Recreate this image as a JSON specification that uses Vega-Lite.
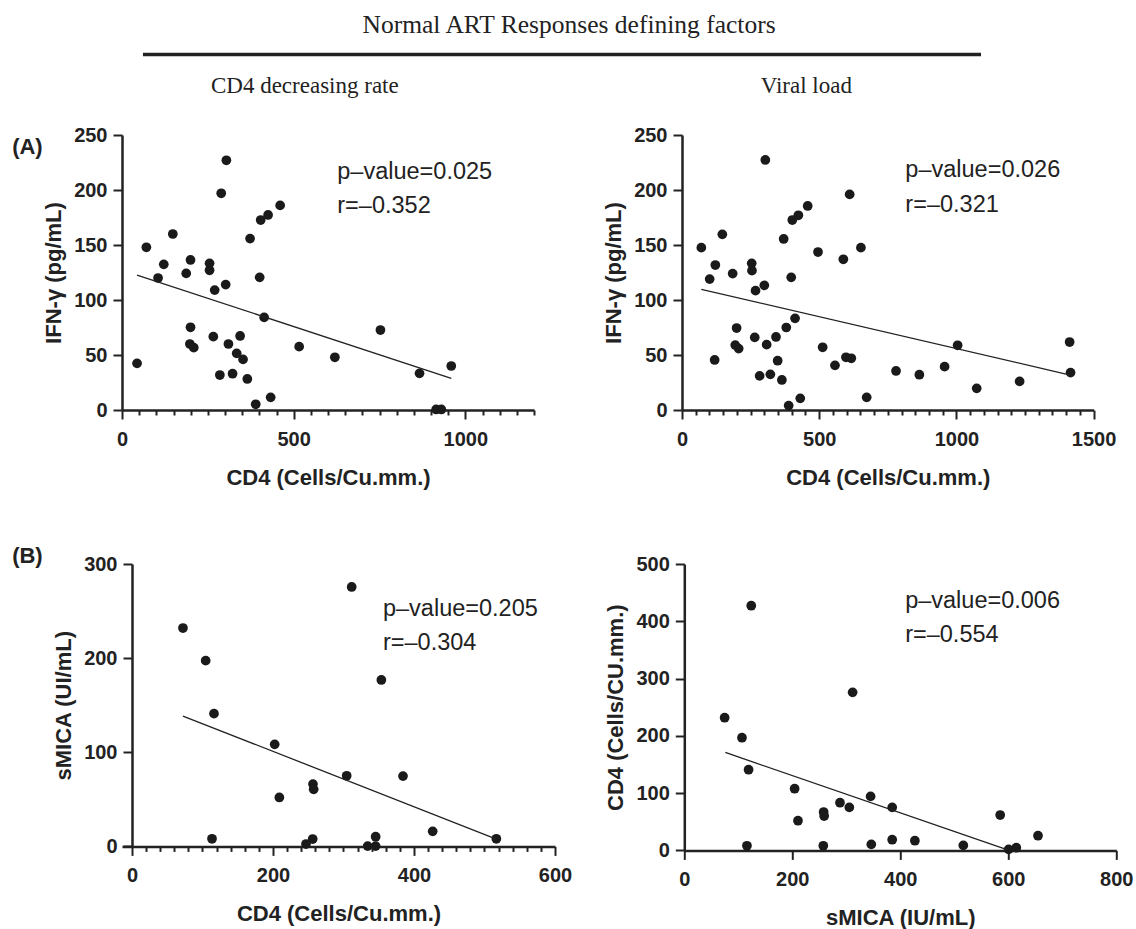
{
  "$schema": "https://vega.github.io/schema/vega-lite/v6.json",
  "padding": {"left": 12, "top": 13, "right": 5, "bottom": 5},
  "background": "white",
  "title": {"text": "Normal ART Responses defining factors", "font": "Liberation Serif", "fontSize": 25.5, "fontWeight": "normal", "color": "#222", "anchor": "middle", "offset": 14, "dx": -3.5},
  "config": {
    "view": {"stroke": null},
    "axis": {"grid": false, "labelFont": "Liberation Sans", "labelFontSize": 20, "labelFontWeight": "bold", "labelColor": "#222", "titleFont": "Liberation Sans", "titleFontSize": 22, "titleFontWeight": "bold", "titleColor": "#222", "labelPadding": 6, "labelFlush": false, "labelOverlap": false, "format": "d"},
    "axisX": {"labelPadding": 10, "titlePadding": 18},
    "axisY": {"titlePadding": 8},
    "text": {"font": "Liberation Sans", "color": "#222"}
  },
  "datasets": {
    "aL": [{"x":43.8,"y":42.4},{"x":71,"y":147.9},{"x":105,"y":120},{"x":121.7,"y":132.4},{"x":148,"y":160},{"x":187,"y":124.2},{"x":199.6,"y":136.4},{"x":199.6,"y":75.2},{"x":197.7,"y":60},{"x":209,"y":56.7},{"x":255,"y":133.3},{"x":255,"y":127},{"x":266,"y":66.7},{"x":270,"y":109},{"x":285,"y":31.8},{"x":289,"y":197},{"x":302,"y":114},{"x":304,"y":227},{"x":310,"y":60},{"x":322,"y":33},{"x":334,"y":51.5},{"x":344,"y":67.3},{"x":352.5,"y":46},{"x":365,"y":28.2},{"x":373,"y":155.8},{"x":389.5,"y":5.2},{"x":401,"y":120.6},{"x":404,"y":172.7},{"x":414,"y":84.2},{"x":425.5,"y":177.3},{"x":433,"y":11.5},{"x":460.6,"y":186},{"x":516,"y":57.6},{"x":620,"y":47.9},{"x":752.7,"y":72.7},{"x":866.6,"y":33.3},{"x":915,"y":0.5},{"x":930,"y":0.5},{"x":959,"y":40}],
    "aLfit": [{"x":43.8,"y":122.7},{"x":959,"y":28.8}],
    "aR": [{"x":70.5,"y":147.6},{"x":100.8,"y":119},{"x":119,"y":45.5},{"x":121.5,"y":131.8},{"x":147,"y":159.7},{"x":184.6,"y":124},{"x":199,"y":74.5},{"x":194,"y":59},{"x":206.5,"y":55.8},{"x":254,"y":133.3},{"x":255,"y":126.7},{"x":265,"y":66},{"x":268,"y":108.5},{"x":283,"y":31},{"x":300,"y":113.3},{"x":303.7,"y":227.3},{"x":308.5,"y":59.4},{"x":322,"y":32.4},{"x":342.5,"y":66.4},{"x":348.6,"y":44.8},{"x":364,"y":27.3},{"x":370.5,"y":155.5},{"x":380,"y":75},{"x":388.7,"y":4},{"x":398,"y":120.6},{"x":402,"y":172.7},{"x":412,"y":83.3},{"x":424,"y":177},{"x":431,"y":10.6},{"x":458,"y":185.5},{"x":495.6,"y":143.6},{"x":512.6,"y":57},{"x":557.5,"y":40.6},{"x":588,"y":137},{"x":597.6,"y":47.9},{"x":617,"y":47},{"x":611,"y":196},{"x":652,"y":147.6},{"x":673,"y":11.5},{"x":780,"y":35.5},{"x":865,"y":32.1},{"x":957,"y":39.4},{"x":1004.5,"y":58.8},{"x":1074,"y":19.7},{"x":1230.4,"y":26},{"x":1412.6,"y":61.8},{"x":1416,"y":34}],
    "aRfit": [{"x":70.5,"y":109.7},{"x":1415,"y":31.8}],
    "bL": [{"x":72.3,"y":232},{"x":104.5,"y":197.3},{"x":116.3,"y":141},{"x":113.5,"y":8.1},{"x":202.4,"y":108.4},{"x":209,"y":52},{"x":256.7,"y":66.2},{"x":257.7,"y":60.6},{"x":256.3,"y":7.8},{"x":246.8,"y":2.5},{"x":311.6,"y":275.6},{"x":304.5,"y":75},{"x":334.3,"y":0.3},{"x":345.6,"y":0.3},{"x":345.6,"y":10.3},{"x":353.7,"y":176.8},{"x":384.4,"y":74.7},{"x":426.5,"y":16},{"x":516.8,"y":8.1}],
    "bLfit": [{"x":72.3,"y":138.5},{"x":516.8,"y":7.8}],
    "bR": [{"x":74.7,"y":231.7},{"x":106.8,"y":196.7},{"x":124,"y":427.2},{"x":119,"y":140.9},{"x":116,"y":8.1},{"x":204.3,"y":107.7},{"x":210.5,"y":51.8},{"x":258,"y":67},{"x":259,"y":60},{"x":257.4,"y":8.1},{"x":288.3,"y":83.2},{"x":305.6,"y":75.1},{"x":311.7,"y":275.9},{"x":345,"y":94.3},{"x":346.3,"y":10.5},{"x":385,"y":75.1},{"x":385,"y":18.6},{"x":427,"y":16.9},{"x":516.7,"y":8.7},{"x":585,"y":61.7},{"x":600.6,"y":1.7},{"x":614.8,"y":4.7},{"x":655,"y":25.6}],
    "bRfit": [{"x":75.9,"y":171},{"x":597.5,"y":1.2}]
  },
  "spacing": 56,
  "vconcat": [
    {
      "bounds": "flush",
      "spacing": 148,
      "hconcat": [
        {
          "width": 412, "height": 275,
          "layer": [
            {"data": {"name": "aL"}, "mark": {"type": "point", "filled": true, "size": 95, "color": "#1a1a1a", "opacity": 1},
             "encoding": {
               "x": {"field": "x", "type": "quantitative", "scale": {"domain": [0, 1200], "nice": false}, "axis": {"title": "CD4 (Cells/Cu.mm.)", "domainColor": "#222", "domainWidth": 2.5, "tickColor": "#222", "tickWidth": 2, "values": [0,50,100,150,200,250,300,350,400,450,500,550,600,650,700,750,800,850,900,950,1000,1050,1100,1150,1200], "labelExpr": "datum.value % 500 === 0 ? datum.label : ''", "tickSize": {"condition": {"test": "datum.value % 500 === 0", "value": 9}, "value": 5}}},
               "y": {"field": "y", "type": "quantitative", "scale": {"domain": [0, 250], "nice": false}, "axis": {"title": "IFN-γ (pg/mL)", "domainColor": "#222", "domainWidth": 2.5, "tickColor": "#222", "tickWidth": 2, "tickSize": 9, "values": [0,50,100,150,200,250]}}
             }},
            {"data": {"name": "aLfit"}, "mark": {"type": "line", "color": "#222", "strokeWidth": 1.3},
             "encoding": {
               "x": {"field": "x", "type": "quantitative", "scale": {"domain": [0, 1200], "nice": false}, "axis": {"title": "CD4 (Cells/Cu.mm.)", "domainColor": "#222", "domainWidth": 2.5, "tickColor": "#222", "tickWidth": 2, "values": [0,50,100,150,200,250,300,350,400,450,500,550,600,650,700,750,800,850,900,950,1000,1050,1100,1150,1200], "labelExpr": "datum.value % 500 === 0 ? datum.label : ''", "tickSize": {"condition": {"test": "datum.value % 500 === 0", "value": 9}, "value": 5}}},
               "y": {"field": "y", "type": "quantitative", "scale": {"domain": [0, 250], "nice": false}, "axis": {"title": "IFN-γ (pg/mL)", "domainColor": "#222", "domainWidth": 2.5, "tickColor": "#222", "tickWidth": 2, "tickSize": 9, "values": [0,50,100,150,200,250]}}}},
            {"data": {"values": [{}]}, "mark": {"type": "text", "align": "left", "baseline": "middle", "fontSize": 23.5},
             "encoding": {
               "x": {"datum": 627, "scale": {"domain": [0, 1200], "nice": false}, "axis": {"title": "CD4 (Cells/Cu.mm.)", "domainColor": "#222", "domainWidth": 2.5, "tickColor": "#222", "tickWidth": 2, "values": [0,50,100,150,200,250,300,350,400,450,500,550,600,650,700,750,800,850,900,950,1000,1050,1100,1150,1200], "labelExpr": "datum.value % 500 === 0 ? datum.label : ''", "tickSize": {"condition": {"test": "datum.value % 500 === 0", "value": 9}, "value": 5}}},
               "y": {"datum": 216.6, "scale": {"domain": [0, 250], "nice": false}, "axis": {"title": "IFN-γ (pg/mL)", "domainColor": "#222", "domainWidth": 2.5, "tickColor": "#222", "tickWidth": 2, "tickSize": 9, "values": [0,50,100,150,200,250]}},
               "text": {"value": "p–value=0.025"}}},
            {"data": {"values": [{}]}, "mark": {"type": "text", "align": "left", "baseline": "middle", "fontSize": 23.5},
             "encoding": {
               "x": {"datum": 627, "scale": {"domain": [0, 1200], "nice": false}, "axis": {"title": "CD4 (Cells/Cu.mm.)", "domainColor": "#222", "domainWidth": 2.5, "tickColor": "#222", "tickWidth": 2, "values": [0,50,100,150,200,250,300,350,400,450,500,550,600,650,700,750,800,850,900,950,1000,1050,1100,1150,1200], "labelExpr": "datum.value % 500 === 0 ? datum.label : ''", "tickSize": {"condition": {"test": "datum.value % 500 === 0", "value": 9}, "value": 5}}},
               "y": {"datum": 185.5, "scale": {"domain": [0, 250], "nice": false}, "axis": {"title": "IFN-γ (pg/mL)", "domainColor": "#222", "domainWidth": 2.5, "tickColor": "#222", "tickWidth": 2, "tickSize": 9, "values": [0,50,100,150,200,250]}},
               "text": {"value": "r=–0.352"}}},
            {"data": {"values": [{}]}, "mark": {"type": "text", "align": "left", "baseline": "middle", "fontSize": 22, "fontWeight": "bold"},
             "encoding": {
               "x": {"datum": -320, "scale": {"domain": [0, 1200], "nice": false}, "axis": {"title": "CD4 (Cells/Cu.mm.)", "domainColor": "#222", "domainWidth": 2.5, "tickColor": "#222", "tickWidth": 2, "values": [0,50,100,150,200,250,300,350,400,450,500,550,600,650,700,750,800,850,900,950,1000,1050,1100,1150,1200], "labelExpr": "datum.value % 500 === 0 ? datum.label : ''", "tickSize": {"condition": {"test": "datum.value % 500 === 0", "value": 9}, "value": 5}}},
               "y": {"datum": 239, "scale": {"domain": [0, 250], "nice": false}, "axis": {"title": "IFN-γ (pg/mL)", "domainColor": "#222", "domainWidth": 2.5, "tickColor": "#222", "tickWidth": 2, "tickSize": 9, "values": [0,50,100,150,200,250]}},
               "text": {"value": "(A)"}}},
            {"data": {"values": [{}]}, "mark": {"type": "text", "align": "center", "baseline": "alphabetic", "fontSize": 23, "font": "Liberation Serif"},
             "encoding": {
               "x": {"datum": 532.5, "scale": {"domain": [0, 1200], "nice": false}, "axis": {"title": "CD4 (Cells/Cu.mm.)", "domainColor": "#222", "domainWidth": 2.5, "tickColor": "#222", "tickWidth": 2, "values": [0,50,100,150,200,250,300,350,400,450,500,550,600,650,700,750,800,850,900,950,1000,1050,1100,1150,1200], "labelExpr": "datum.value % 500 === 0 ? datum.label : ''", "tickSize": {"condition": {"test": "datum.value % 500 === 0", "value": 9}, "value": 5}}},
               "y": {"datum": 288.5, "scale": {"domain": [0, 250], "nice": false}, "axis": {"title": "IFN-γ (pg/mL)", "domainColor": "#222", "domainWidth": 2.5, "tickColor": "#222", "tickWidth": 2, "tickSize": 9, "values": [0,50,100,150,200,250]}},
               "text": {"value": "CD4 decreasing rate"}}},
            {"data": {"values": [{}]}, "mark": {"type": "rule", "color": "#222", "strokeWidth": 3.5},
             "encoding": {
               "x": {"datum": 61, "scale": {"domain": [0, 1200], "nice": false}, "axis": {"title": "CD4 (Cells/Cu.mm.)", "domainColor": "#222", "domainWidth": 2.5, "tickColor": "#222", "tickWidth": 2, "values": [0,50,100,150,200,250,300,350,400,450,500,550,600,650,700,750,800,850,900,950,1000,1050,1100,1150,1200], "labelExpr": "datum.value % 500 === 0 ? datum.label : ''", "tickSize": {"condition": {"test": "datum.value % 500 === 0", "value": 9}, "value": 5}}},
               "x2": {"datum": 2502},
               "y": {"datum": 323.2, "scale": {"domain": [0, 250], "nice": false}, "axis": {"title": "IFN-γ (pg/mL)", "domainColor": "#222", "domainWidth": 2.5, "tickColor": "#222", "tickWidth": 2, "tickSize": 9, "values": [0,50,100,150,200,250]}}}}
          ]
        },
        {
          "width": 411.6, "height": 275,
          "layer": [
            {"data": {"name": "aR"}, "mark": {"type": "point", "filled": true, "size": 95, "color": "#1a1a1a", "opacity": 1},
             "encoding": {
               "x": {"field": "x", "type": "quantitative", "scale": {"domain": [0, 1500], "nice": false}, "axis": {"title": "CD4 (Cells/Cu.mm.)", "domainColor": "#222", "domainWidth": 2.5, "tickColor": "#222", "tickWidth": 2, "values": [0,50,100,150,200,250,300,350,400,450,500,550,600,650,700,750,800,850,900,950,1000,1050,1100,1150,1200,1250,1300,1350,1400,1450,1500], "labelExpr": "datum.value % 500 === 0 ? datum.label : ''", "tickSize": {"condition": {"test": "datum.value % 500 === 0", "value": 9}, "value": 5}}},
               "y": {"field": "y", "type": "quantitative", "scale": {"domain": [0, 250], "nice": false}, "axis": {"title": "IFN-γ (pg/mL)", "domainColor": "#222", "domainWidth": 2.5, "tickColor": "#222", "tickWidth": 2, "tickSize": 9, "values": [0,50,100,150,200,250]}}
             }},
            {"data": {"name": "aRfit"}, "mark": {"type": "line", "color": "#222", "strokeWidth": 1.3},
             "encoding": {
               "x": {"field": "x", "type": "quantitative", "scale": {"domain": [0, 1500], "nice": false}, "axis": {"title": "CD4 (Cells/Cu.mm.)", "domainColor": "#222", "domainWidth": 2.5, "tickColor": "#222", "tickWidth": 2, "values": [0,50,100,150,200,250,300,350,400,450,500,550,600,650,700,750,800,850,900,950,1000,1050,1100,1150,1200,1250,1300,1350,1400,1450,1500], "labelExpr": "datum.value % 500 === 0 ? datum.label : ''", "tickSize": {"condition": {"test": "datum.value % 500 === 0", "value": 9}, "value": 5}}},
               "y": {"field": "y", "type": "quantitative", "scale": {"domain": [0, 250], "nice": false}, "axis": {"title": "IFN-γ (pg/mL)", "domainColor": "#222", "domainWidth": 2.5, "tickColor": "#222", "tickWidth": 2, "tickSize": 9, "values": [0,50,100,150,200,250]}}}},
            {"data": {"values": [{}]}, "mark": {"type": "text", "align": "left", "baseline": "middle", "fontSize": 23.5},
             "encoding": {
               "x": {"datum": 814, "scale": {"domain": [0, 1500], "nice": false}, "axis": {"title": "CD4 (Cells/Cu.mm.)", "domainColor": "#222", "domainWidth": 2.5, "tickColor": "#222", "tickWidth": 2, "values": [0,50,100,150,200,250,300,350,400,450,500,550,600,650,700,750,800,850,900,950,1000,1050,1100,1150,1200,1250,1300,1350,1400,1450,1500], "labelExpr": "datum.value % 500 === 0 ? datum.label : ''", "tickSize": {"condition": {"test": "datum.value % 500 === 0", "value": 9}, "value": 5}}},
               "y": {"datum": 218, "scale": {"domain": [0, 250], "nice": false}, "axis": {"title": "IFN-γ (pg/mL)", "domainColor": "#222", "domainWidth": 2.5, "tickColor": "#222", "tickWidth": 2, "tickSize": 9, "values": [0,50,100,150,200,250]}},
               "text": {"value": "p–value=0.026"}}},
            {"data": {"values": [{}]}, "mark": {"type": "text", "align": "left", "baseline": "middle", "fontSize": 23.5},
             "encoding": {
               "x": {"datum": 814, "scale": {"domain": [0, 1500], "nice": false}, "axis": {"title": "CD4 (Cells/Cu.mm.)", "domainColor": "#222", "domainWidth": 2.5, "tickColor": "#222", "tickWidth": 2, "values": [0,50,100,150,200,250,300,350,400,450,500,550,600,650,700,750,800,850,900,950,1000,1050,1100,1150,1200,1250,1300,1350,1400,1450,1500], "labelExpr": "datum.value % 500 === 0 ? datum.label : ''", "tickSize": {"condition": {"test": "datum.value % 500 === 0", "value": 9}, "value": 5}}},
               "y": {"datum": 186.4, "scale": {"domain": [0, 250], "nice": false}, "axis": {"title": "IFN-γ (pg/mL)", "domainColor": "#222", "domainWidth": 2.5, "tickColor": "#222", "tickWidth": 2, "tickSize": 9, "values": [0,50,100,150,200,250]}},
               "text": {"value": "r=–0.321"}}},
            {"data": {"values": [{}]}, "mark": {"type": "text", "align": "center", "baseline": "alphabetic", "fontSize": 23, "font": "Liberation Serif"},
             "encoding": {
               "x": {"datum": 453, "scale": {"domain": [0, 1500], "nice": false}, "axis": {"title": "CD4 (Cells/Cu.mm.)", "domainColor": "#222", "domainWidth": 2.5, "tickColor": "#222", "tickWidth": 2, "values": [0,50,100,150,200,250,300,350,400,450,500,550,600,650,700,750,800,850,900,950,1000,1050,1100,1150,1200,1250,1300,1350,1400,1450,1500], "labelExpr": "datum.value % 500 === 0 ? datum.label : ''", "tickSize": {"condition": {"test": "datum.value % 500 === 0", "value": 9}, "value": 5}}},
               "y": {"datum": 288.5, "scale": {"domain": [0, 250], "nice": false}, "axis": {"title": "IFN-γ (pg/mL)", "domainColor": "#222", "domainWidth": 2.5, "tickColor": "#222", "tickWidth": 2, "tickSize": 9, "values": [0,50,100,150,200,250]}},
               "text": {"value": "Viral load"}}}
          ]
        }
      ]
    },
    {
      "bounds": "flush",
      "spacing": 129.3,
      "hconcat": [
        {
          "width": 433, "height": 282.4,
          "layer": [
            {"data": {"name": "bL"}, "mark": {"type": "point", "filled": true, "size": 95, "color": "#1a1a1a", "opacity": 1},
             "encoding": {
               "x": {"field": "x", "type": "quantitative", "scale": {"domain": [-14.18, 600], "nice": false, "zero": false}, "axis": {"title": "CD4 (Cells/Cu.mm.)", "domainColor": "#222", "domainWidth": 2.5, "tickColor": "#222", "tickWidth": 2, "values": [0,20,40,60,80,100,120,140,160,180,200,220,240,260,280,300,320,340,360,380,400,420,440,460,480,500,520,540,560,580,600], "labelExpr": "datum.value % 200 === 0 ? datum.label : ''", "tickSize": {"condition": {"test": "datum.value % 200 === 0", "value": 9}, "value": 5}}},
               "y": {"field": "y", "type": "quantitative", "scale": {"domain": [0, 300], "nice": false}, "axis": {"title": "sMICA (UI/mL)", "offset": -10, "domainColor": "#222", "domainWidth": 2.5, "tickColor": "#222", "tickWidth": 2, "tickSize": 9, "values": [0,100,200,300]}}
             }},
            {"data": {"name": "bLfit"}, "mark": {"type": "line", "color": "#222", "strokeWidth": 1.3},
             "encoding": {
               "x": {"field": "x", "type": "quantitative", "scale": {"domain": [-14.18, 600], "nice": false, "zero": false}, "axis": {"title": "CD4 (Cells/Cu.mm.)", "domainColor": "#222", "domainWidth": 2.5, "tickColor": "#222", "tickWidth": 2, "values": [0,20,40,60,80,100,120,140,160,180,200,220,240,260,280,300,320,340,360,380,400,420,440,460,480,500,520,540,560,580,600], "labelExpr": "datum.value % 200 === 0 ? datum.label : ''", "tickSize": {"condition": {"test": "datum.value % 200 === 0", "value": 9}, "value": 5}}},
               "y": {"field": "y", "type": "quantitative", "scale": {"domain": [0, 300], "nice": false}, "axis": {"title": "sMICA (UI/mL)", "offset": -10, "domainColor": "#222", "domainWidth": 2.5, "tickColor": "#222", "tickWidth": 2, "tickSize": 9, "values": [0,100,200,300]}}}},
            {"data": {"values": [{}]}, "mark": {"type": "text", "align": "left", "baseline": "middle", "fontSize": 23.5},
             "encoding": {
               "x": {"datum": 356, "scale": {"domain": [-14.18, 600], "nice": false, "zero": false}, "axis": {"title": "CD4 (Cells/Cu.mm.)", "domainColor": "#222", "domainWidth": 2.5, "tickColor": "#222", "tickWidth": 2, "values": [0,20,40,60,80,100,120,140,160,180,200,220,240,260,280,300,320,340,360,380,400,420,440,460,480,500,520,540,560,580,600], "labelExpr": "datum.value % 200 === 0 ? datum.label : ''", "tickSize": {"condition": {"test": "datum.value % 200 === 0", "value": 9}, "value": 5}}},
               "y": {"datum": 252.5, "scale": {"domain": [0, 300], "nice": false}, "axis": {"title": "sMICA (UI/mL)", "offset": -10, "domainColor": "#222", "domainWidth": 2.5, "tickColor": "#222", "tickWidth": 2, "tickSize": 9, "values": [0,100,200,300]}},
               "text": {"value": "p–value=0.205"}}},
            {"data": {"values": [{}]}, "mark": {"type": "text", "align": "left", "baseline": "middle", "fontSize": 23.5},
             "encoding": {
               "x": {"datum": 356, "scale": {"domain": [-14.18, 600], "nice": false, "zero": false}, "axis": {"title": "CD4 (Cells/Cu.mm.)", "domainColor": "#222", "domainWidth": 2.5, "tickColor": "#222", "tickWidth": 2, "values": [0,20,40,60,80,100,120,140,160,180,200,220,240,260,280,300,320,340,360,380,400,420,440,460,480,500,520,540,560,580,600], "labelExpr": "datum.value % 200 === 0 ? datum.label : ''", "tickSize": {"condition": {"test": "datum.value % 200 === 0", "value": 9}, "value": 5}}},
               "y": {"datum": 216, "scale": {"domain": [0, 300], "nice": false}, "axis": {"title": "sMICA (UI/mL)", "offset": -10, "domainColor": "#222", "domainWidth": 2.5, "tickColor": "#222", "tickWidth": 2, "tickSize": 9, "values": [0,100,200,300]}},
               "text": {"value": "r=–0.304"}}},
            {"data": {"values": [{}]}, "mark": {"type": "text", "align": "left", "baseline": "middle", "fontSize": 22, "fontWeight": "bold"},
             "encoding": {
               "x": {"datum": -170, "scale": {"domain": [-14.18, 600], "nice": false, "zero": false}, "axis": {"title": "CD4 (Cells/Cu.mm.)", "domainColor": "#222", "domainWidth": 2.5, "tickColor": "#222", "tickWidth": 2, "values": [0,20,40,60,80,100,120,140,160,180,200,220,240,260,280,300,320,340,360,380,400,420,440,460,480,500,520,540,560,580,600], "labelExpr": "datum.value % 200 === 0 ? datum.label : ''", "tickSize": {"condition": {"test": "datum.value % 200 === 0", "value": 9}, "value": 5}}},
               "y": {"datum": 308.8, "scale": {"domain": [0, 300], "nice": false}, "axis": {"title": "sMICA (UI/mL)", "offset": -10, "domainColor": "#222", "domainWidth": 2.5, "tickColor": "#222", "tickWidth": 2, "tickSize": 9, "values": [0,100,200,300]}},
               "text": {"value": "(B)"}}}
          ]
        },
        {
          "width": 432, "height": 286.4,
          "layer": [
            {"data": {"name": "bR"}, "mark": {"type": "point", "filled": true, "size": 95, "color": "#1a1a1a", "opacity": 1},
             "encoding": {
               "x": {"field": "x", "type": "quantitative", "scale": {"domain": [0, 800], "nice": false}, "axis": {"title": "sMICA (IU/mL)", "domainColor": "#222", "domainWidth": 2.5, "tickColor": "#222", "tickWidth": 2, "tickSize": 9, "values": [0,200,400,600,800]}},
               "y": {"field": "y", "type": "quantitative", "scale": {"domain": [0, 500], "nice": false}, "axis": {"title": "CD4 (Cells/CU.mm.)", "domainColor": "#222", "domainWidth": 2.5, "tickColor": "#222", "tickWidth": 2, "tickSize": 9, "values": [0,100,200,300,400,500]}}
             }},
            {"data": {"name": "bRfit"}, "mark": {"type": "line", "color": "#222", "strokeWidth": 1.3},
             "encoding": {
               "x": {"field": "x", "type": "quantitative", "scale": {"domain": [0, 800], "nice": false}, "axis": {"title": "sMICA (IU/mL)", "domainColor": "#222", "domainWidth": 2.5, "tickColor": "#222", "tickWidth": 2, "tickSize": 9, "values": [0,200,400,600,800]}},
               "y": {"field": "y", "type": "quantitative", "scale": {"domain": [0, 500], "nice": false}, "axis": {"title": "CD4 (Cells/CU.mm.)", "domainColor": "#222", "domainWidth": 2.5, "tickColor": "#222", "tickWidth": 2, "tickSize": 9, "values": [0,100,200,300,400,500]}}}},
            {"data": {"values": [{}]}, "mark": {"type": "text", "align": "left", "baseline": "middle", "fontSize": 23.5},
             "encoding": {
               "x": {"datum": 409, "scale": {"domain": [0, 800], "nice": false}, "axis": {"title": "sMICA (IU/mL)", "domainColor": "#222", "domainWidth": 2.5, "tickColor": "#222", "tickWidth": 2, "tickSize": 9, "values": [0,200,400,600,800]}},
               "y": {"datum": 436, "scale": {"domain": [0, 500], "nice": false}, "axis": {"title": "CD4 (Cells/CU.mm.)", "domainColor": "#222", "domainWidth": 2.5, "tickColor": "#222", "tickWidth": 2, "tickSize": 9, "values": [0,100,200,300,400,500]}},
               "text": {"value": "p–value=0.006"}}},
            {"data": {"values": [{}]}, "mark": {"type": "text", "align": "left", "baseline": "middle", "fontSize": 23.5},
             "encoding": {
               "x": {"datum": 409, "scale": {"domain": [0, 800], "nice": false}, "axis": {"title": "sMICA (IU/mL)", "domainColor": "#222", "domainWidth": 2.5, "tickColor": "#222", "tickWidth": 2, "tickSize": 9, "values": [0,200,400,600,800]}},
               "y": {"datum": 376.6, "scale": {"domain": [0, 500], "nice": false}, "axis": {"title": "CD4 (Cells/CU.mm.)", "domainColor": "#222", "domainWidth": 2.5, "tickColor": "#222", "tickWidth": 2, "tickSize": 9, "values": [0,100,200,300,400,500]}},
               "text": {"value": "r=–0.554"}}}
          ]
        }
      ]
    }
  ]
}
